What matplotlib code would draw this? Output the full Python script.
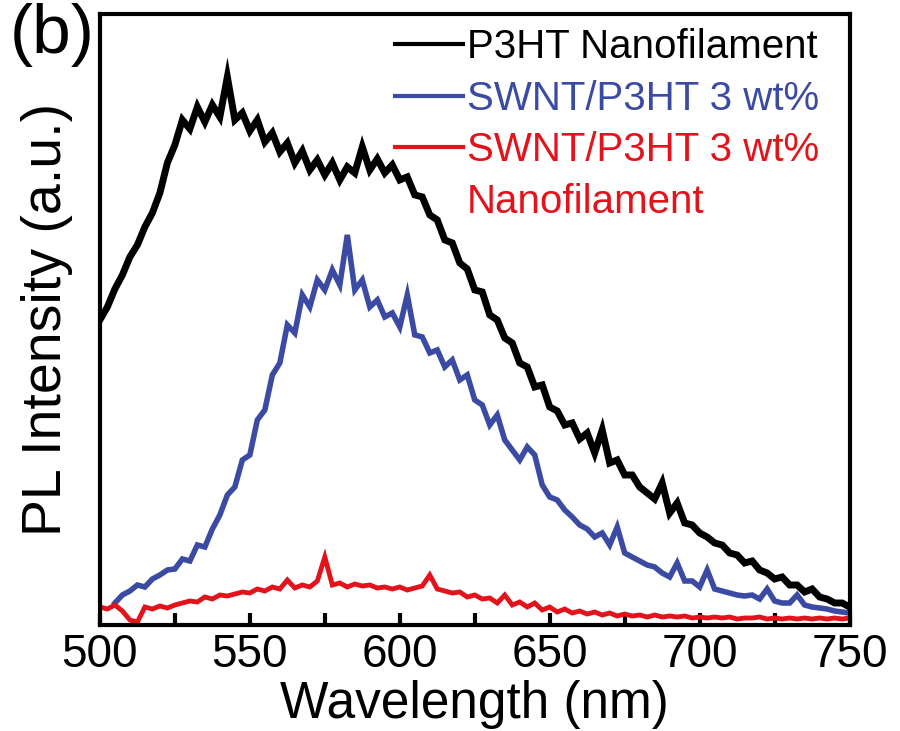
import matplotlib
matplotlib.use('Agg')

import matplotlib.pyplot as plt
from matplotlib.lines import Line2D
import numpy as np

plt.rcParams['font.family'] = ['Liberation Sans', 'DejaVu Sans']

# wavelength grid, 2.5 nm steps from 500 to 750 nm
wavelength = np.linspace(500, 750, 101)

# PL intensity (a.u.)
p3ht_nanofil = [
    305, 318, 336, 350, 368, 380, 398, 412, 432, 462,
    480, 505, 496, 518, 503, 520, 508, 548, 505, 512,
    494, 505, 483, 492, 473, 482, 462, 474, 455, 465,
    450, 462, 445, 458, 452, 478, 455, 466, 452, 460,
    445, 448, 430, 428, 410, 405, 385, 382, 362, 356,
    335, 333, 310, 305, 287, 282, 262, 258, 238, 240,
    218, 214, 200, 202, 186, 192, 172, 195, 162, 165,
    150, 150, 138, 132, 126, 142, 112, 122, 102, 100,
    92, 88, 82, 80, 72, 70, 62, 64, 55, 52,
    46, 48, 40, 40, 33, 36, 28, 26, 22, 22,
    18,
]

swnt_p3ht = [
    np.nan, np.nan, 22, 30, 34, 40, 38, 46, 50, 55,
    56, 66, 64, 80, 78, 96, 110, 130, 138, 165,
    170, 205, 215, 250, 262, 300, 292, 330, 318, 345,
    335, 355, 340, 390, 335, 345, 318, 325, 308, 312,
    298, 330, 290, 288, 272, 275, 258, 265, 245, 250,
    225, 220, 200, 210, 185, 175, 165, 178, 170, 140,
    128, 125, 115, 108, 100, 96, 88, 92, 80, 98,
    72, 68, 64, 60, 58, 52, 48, 62, 44, 44,
    38, 55, 36, 34, 32, 30, 29, 30, 26, 36,
    24, 22, 22, 30, 20, 18, 17, 16, 14, 13,
    12,
]

swnt_p3ht_nanofil = [
    18, 16, 20, 14, 5, 3, 18, 16, 19, 17,
    20, 22, 24, 23, 28, 26, 30, 29, 31, 33,
    32, 36, 34, 38, 36, 45, 37, 40, 38, 44,
    68, 40, 42, 38, 41, 39, 40, 37, 38, 36,
    38, 35, 37, 39, 50, 36, 34, 32, 33, 28,
    30, 26, 27, 22, 30, 20, 23, 18, 22, 15,
    18, 13, 16, 12, 14, 11, 13, 10, 12, 9,
    11, 9, 10, 8, 10, 8, 9, 8, 9, 7,
    8, 7, 8, 7, 8, 6, 7, 7, 8, 6,
    7, 6, 7, 6, 7, 6, 7, 6, 7, 6,
    7,
]

labels = ['P3HT Nanofilament', 'SWNT/P3HT 3 wt%', 'SWNT/P3HT 3 wt%', 'Nanofilament']
colors = ['#000000', '#3b4ba3', '#e3131b']

fig = plt.figure(figsize=(9, 7.31), dpi=100)
ax = fig.add_axes([0.111, 0.145, 0.833, 0.836])

# thick lines so the noisy traces read as bands like in the original
ax.plot(wavelength, p3ht_nanofil, color=colors[0], lw=5.0, solid_joinstyle='miter')
ax.plot(wavelength, swnt_p3ht, color=colors[1], lw=4.0, solid_joinstyle='miter')
ax.plot(wavelength, swnt_p3ht_nanofil, color=colors[2], lw=3.5, solid_joinstyle='miter')

ax.set_xlim(500, 750)
ax.set_ylim(0, 611)

ax.set_xticks([500, 550, 600, 650, 700, 750])
ax.set_xticks([525, 575, 625, 675, 725], minor=True)
ax.set_yticks([])
ax.tick_params(axis='x', which='both', direction='in', length=9, width=3,
               top=False, pad=6, labelsize=33)

for sp in ax.spines.values():
    sp.set_linewidth(3)

ax.set_xlabel('Wavelength (nm)', fontsize=37, labelpad=2)
ax.set_ylabel('PL Intensity (a.u.)', fontsize=40)
ax.yaxis.set_label_coords(-0.036, 0.5)

# legend: 4th row is the second line of the red label
handles = [Line2D([], [], color=colors[0], lw=3),
           Line2D([], [], color=colors[1], lw=3),
           Line2D([], [], color=colors[2], lw=3),
           Line2D([], [], color='none', lw=3)]
leg = ax.legend(handles, labels, loc='upper left', bbox_to_anchor=(0.393, 0.977),
                frameon=False, fontsize=29, handlelength=1.7, handletextpad=0.1,
                labelspacing=0.34, borderpad=0, borderaxespad=0,
                labelcolor=[colors[0], colors[1], colors[2], colors[2]])

fig.text(0.011, 1 - 35 / 731, '(b)', fontsize=50, ha='left', va='center')

fig.savefig('out.png', dpi=100)
plt.close(fig)
